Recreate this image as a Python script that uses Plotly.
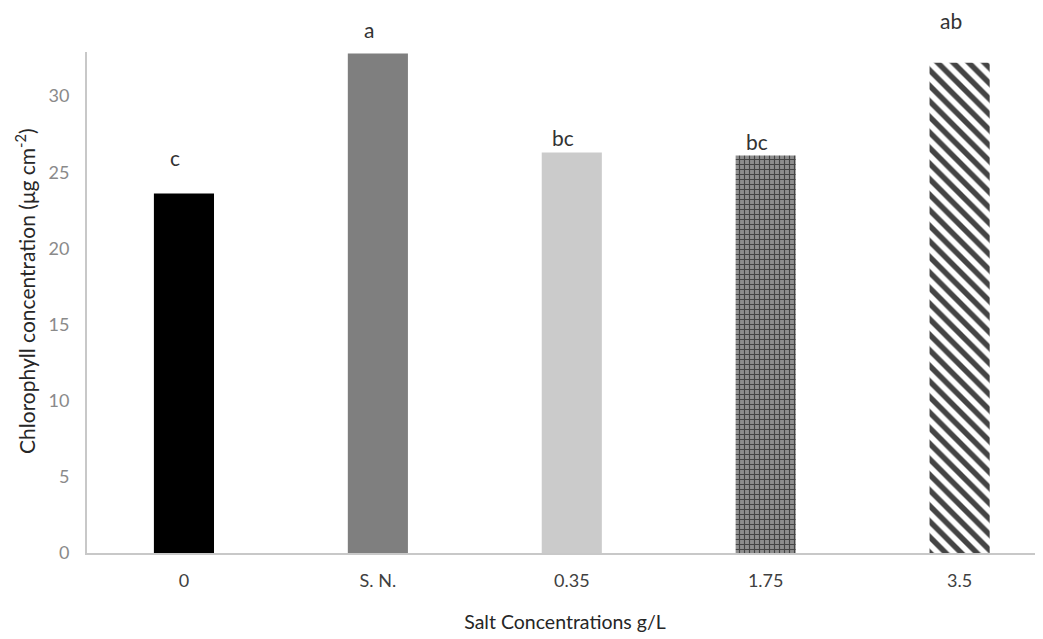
import plotly.graph_objects as go

categories = ["0", "S. N.", "0.35", "1.75", "3.5"]
values = [23.6, 32.8, 26.3, 26.1, 32.2]
letters = ["c", "a", "bc", "bc", "ab"]
letter_y = [26.0, 34.4, 27.3, 27.0, 35.0]

y_max = 32.9
colors = ["#000000", "#7f7f7f", "#cbcbcb", "#8e8e8e", "#ffffff"]
pattern_shapes = ["", "", "", "+", "\\"]
pattern_fg = ["#000000", "#000000", "#000000", "#262626", "#000000"]
pattern_size = [8, 8, 8, 5, 11]
pattern_sol = [0.3, 0.3, 0.3, 0.4, 0.5]

fig = go.Figure()
fig.add_trace(go.Bar(
    x=categories, y=values, width=0.31,
    marker=dict(color=colors, line=dict(width=0),
                pattern=dict(shape=pattern_shapes, fgcolor=pattern_fg, fgopacity=1,
                             size=pattern_size, solidity=pattern_sol, fillmode="overlay")),
    showlegend=False,
))

for i, (t, ly) in enumerate(zip(letters, letter_y)):
    fig.add_annotation(x=i, y=ly / y_max, xref="x", yref="paper", text=t, showarrow=False,
                       xshift=-9, yanchor="middle",
                       font=dict(size=21, color="#333333", family="Lato"))

fig.add_annotation(xref="paper", yref="paper", x=-62/956, y=0.523, xanchor="center", yanchor="middle",
                   text="Chlorophyll concentration (μg cm<sup>-2</sup>)", textangle=-90,
                   showarrow=False, font=dict(size=21, color="#262626", family="Lato"))

fig.update_layout(
    width=1035, height=631,
    margin=dict(l=79, r=0, t=44, b=86),
    plot_bgcolor="white", paper_bgcolor="white",
    font=dict(family="Lato"),
    xaxis=dict(type="category", range=[-0.5, 4.43], showgrid=False, ticks="",
               showline=True, linecolor="#c8c8c8", linewidth=2,
               tickfont=dict(size=18, color="#404040"), ticklabelstandoff=10,
               title=dict(text="Salt Concentrations g/L", font=dict(size=19.5, color="#262626"), standoff=26)),
    yaxis=dict(range=[0, y_max], showgrid=False, ticks="", dtick=5, zeroline=False,
               showline=True, linecolor="#c8c8c8", linewidth=2,
               tickfont=dict(size=18, color="#8a8a8a"), ticklabelstandoff=12),
)

fig.write_html("out.html")
